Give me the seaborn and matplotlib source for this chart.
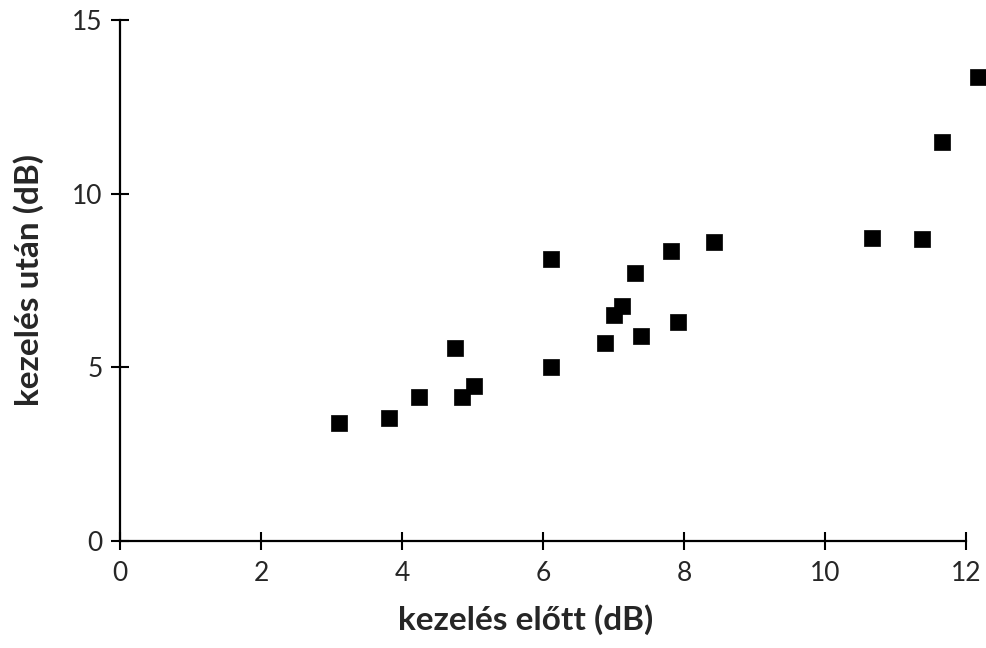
import pandas as pd
import matplotlib
matplotlib.use("Agg")
import matplotlib.pyplot as plt
import seaborn as sns

# values
elotte = [3.10, 3.81, 4.24, 4.75, 4.85, 5.02, 6.12, 6.12, 6.88, 7.00,
          7.12, 7.31, 7.39, 7.81, 7.91, 8.43, 10.67, 11.38, 11.66, 12.17]
utana = [3.41, 3.55, 4.15, 5.57, 4.15, 4.47, 8.11, 5.02, 5.71, 6.51,
         6.76, 7.73, 5.90, 8.36, 6.31, 8.62, 8.73, 8.69, 11.50, 13.37]

x_ticks = [0, 2, 4, 6, 8, 10, 12]
y_ticks = [0, 5, 10, 15]


def plot_kezeles():
    df = pd.DataFrame({"elotte": elotte, "utana": utana})

    sns.set_style("white")
    fig = plt.figure(figsize=(9.86, 6.48), dpi=100)
    ax = fig.add_axes([120 / 986, 1 - 541 / 648, 846 / 986, 521 / 648])

    sns.scatterplot(data=df, x="elotte", y="utana", marker="s", color="black",
                    s=125, edgecolor="black", linewidth=0.5, clip_on=False,
                    zorder=3, ax=ax)

    ax.set_xlim(0, 12)
    ax.set_ylim(0, 15)
    ax.set_xticks(x_ticks)
    ax.set_yticks(y_ticks)
    ax.set_xticklabels([str(t) for t in x_ticks], family="Lato", fontsize=19)
    ax.set_yticklabels([str(t) for t in y_ticks], family="Lato", fontsize=19)

    ax.tick_params(axis="both", direction="inout", length=13, width=1.5,
                   color="black", bottom=True, left=True)
    ax.tick_params(axis="x", pad=8)
    ax.tick_params(axis="y", pad=6)

    sns.despine(ax=ax)
    for side in ["left", "bottom"]:
        ax.spines[side].set_linewidth(1.6)
        ax.spines[side].set_color("black")

    ax.set_xlabel("kezelés előtt (dB)", family="Lato", fontsize=24, weight="bold")
    ax.set_ylabel("kezelés után (dB)", family="Lato", fontsize=24,
                  weight="bold", labelpad=20)
    # the label in the reference sits a little left of the axis centre
    ax.xaxis.set_label_coords(0.479, -0.122)

    fig.savefig("out.png", dpi=100)
    plt.close(fig)


if __name__ == "__main__":
    plot_kezeles()
